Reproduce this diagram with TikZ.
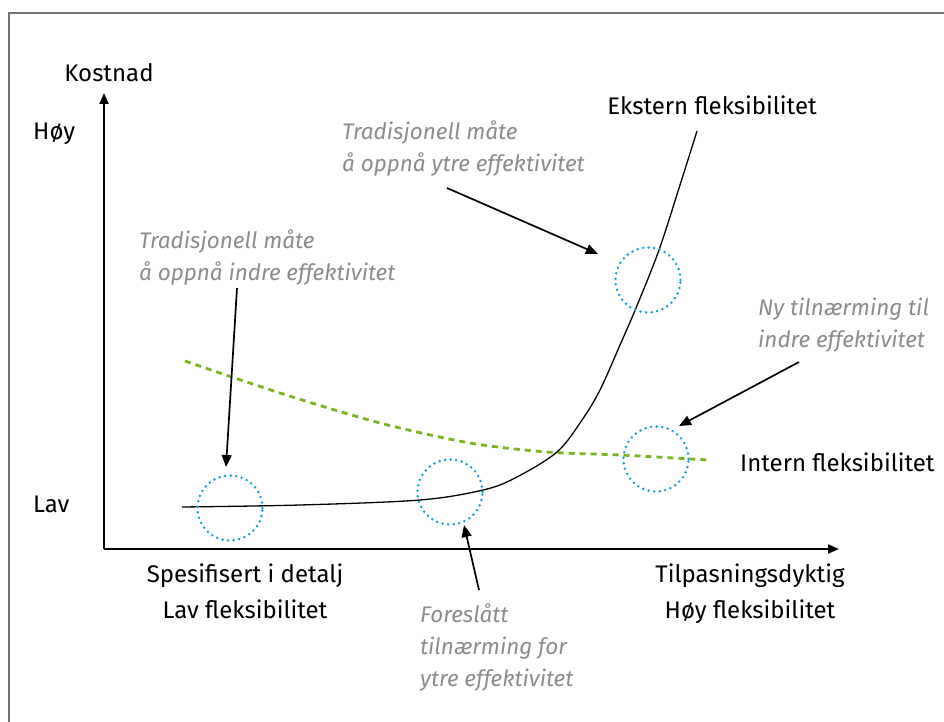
\documentclass[tikz,border=0pt]{standalone}
\usepackage{fontspec}
\setmainfont{Fira Sans}
\usetikzlibrary{arrows.meta}
\definecolor{framegray}{RGB}{115,115,115}
\definecolor{notegray}{RGB}{140,140,140}
\definecolor{dotblue}{RGB}{20,160,225}
\definecolor{dashgreen}{RGB}{122,181,32}
\tikzset{
  axisline/.style={line width=2pt,-{Triangle[length=11pt,width=9pt]}},
  pointer/.style={line width=1.7pt,-{Triangle[length=12pt,width=10pt]}},
  spot/.style={circle,minimum size=65pt,inner sep=0pt,draw=dotblue,line width=2.8pt,line cap=round,dash pattern=on 0pt off 5.6pt},
  axtext/.style={font=\fontsize{24}{27}\selectfont,inner sep=0pt},
  note/.style={font=\fontsize{22.5}{32}\selectfont\itshape,text=notegray,align=left,inner sep=0pt,anchor=north west},
  greendash/.style={dashgreen,line width=2.8pt,dash pattern=on 6pt off 5pt}
}

\begin{document}
\begin{tikzpicture}[x=1pt,y=-1pt]
  \useasboundingbox (0,0) rectangle (944,722);
  \draw [framegray,line width=1.6pt] (944,13) -- (9,13) -- (9,722);
  % axes
  \coordinate (O) at (104,549);
  \coordinate (ytop) at (104,93);
  \coordinate (xend) at (839,549);
  \draw [axisline] (O) -- (ytop);
  \draw [axisline] (O) -- (xend);
  \node (kostnad) [axtext,anchor=base] at (109,82) {Kostnad};
  \node (hoy) [axtext,anchor=base west] at (33,140) {Høy};
  \node (lav) [axtext,anchor=base west] at (33,512) {Lav};
  \node (spes) [axtext,anchor=base] at (245,582) {Spesifisert i detalj};
  \node (lavfl) [axtext,anchor=base] at (245,618) {Lav fleksibilitet};
  \node (tilp) [axtext,anchor=base] at (750,582) {Tilpasningsdyktig};
  \node (hoyfl) [axtext,anchor=base] at (750,618) {Høy fleksibilitet};
  \node (ekstern) [axtext,anchor=base] at (712,115) {Ekstern fleksibilitet};
  \node (intern) [axtext,anchor=base west] at (740,471) {Intern fleksibilitet};
  % curves
  \draw [greendash] plot [smooth] coordinates {(185,361) (280,393) (380,423) (470,443) (547,452) (620,455) (709,460)};
  \draw [line width=1.3pt] plot [smooth,tension=0.55] coordinates {(182,507) (300,505) (420,500) (483,490) (515,478) (557,452) (582,420) (600,390) (620,345) (636,308) (659,250) (680,185) (697,131)};
  % circles
  \node (indre) [spot] at (230,508) {};
  \node (foreslatt) [spot] at (450,492) {};
  \node (ytre) [spot] at (648,280) {};
  \node (ny) [spot] at (656,459) {};
  % notes
  \node (n1) [note] at (139,229) {Tradisjonell måte\\å oppnå indre effektivitet};
  \node (n2) [note] at (342,120) {Tradisjonell måte\\å oppnå ytre effektivitet};
  \node (n3) [note] at (758,298) {Ny tilnærming til\\indre effektivitet};
  \node (n4) [note] at (420,603) {Foreslått\\tilnærming for\\ytre effektivitet};
  % pointers
  \coordinate (a1s) at (237,288); \coordinate (a1e) at (226,467);
  \coordinate (a2s) at (447,188); \coordinate (a2e) at (598,254);
  \coordinate (a3s) at (799,362); \coordinate (a3e) at (679,426);
  \coordinate (a4s) at (479,590); \coordinate (a4e) at (464,525);
  \draw [pointer] (a1s) -- (a1e);
  \draw [pointer] (a2s) -- (a2e);
  \draw [pointer] (a3s) -- (a3e);
  \draw [pointer] (a4s) -- (a4e);
\end{tikzpicture}
\end{document}
